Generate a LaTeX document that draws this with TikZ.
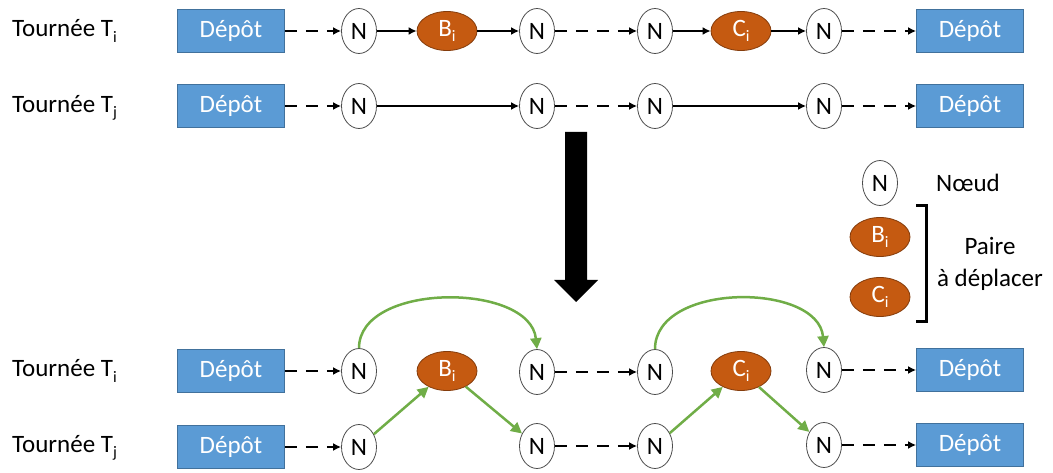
\documentclass[tikz,border=0pt]{standalone}
\usepackage{fontspec}
\setmainfont{Carlito}
\usetikzlibrary{arrows.meta,shapes.geometric}
\definecolor{depblue}{HTML}{5B9BD5}
\definecolor{depborder}{HTML}{41719C}
\definecolor{pairorange}{HTML}{C55A11}
\definecolor{pairborder}{HTML}{843C0C}
\definecolor{movegreen}{HTML}{70AD47}
\newcommand\mysub[1]{\raisebox{-0.45ex}{\fontsize{16}{16}\selectfont #1}}
\tikzset{
  txt/.style={font=\fontsize{25}{29}\selectfont, inner sep=0pt},
  depot/.style={rectangle, draw=depborder, line width=0.8pt, fill=depblue, text=white,
    minimum width=107pt, minimum height=43pt, inner sep=0pt, font=\fontsize{25}{29}\selectfont},
  nnode/.style={ellipse, draw=black!70, line width=0.8pt, fill=white, minimum width=35pt,
    minimum height=45pt, inner sep=0pt, font=\fontsize{25}{29}\selectfont},
  pnode/.style={ellipse, draw=pairborder, line width=0.8pt, fill=pairorange, text=white,
    minimum width=60pt, minimum height=39pt, inner sep=0pt, font=\fontsize{25}{29}\selectfont},
  dasharr/.style={line width=2.2pt, dash pattern=on 12pt off 9pt, -{Latex[length=8pt,width=8pt]}},
  solarr/.style={line width=2.2pt, -{Latex[length=8pt,width=8pt]}},
  greenarr/.style={line width=2.5pt, draw=movegreen, -{Triangle[length=11pt,width=11pt]}},
}
\begin{document}
\begin{tikzpicture}[x=1pt,y=-1pt]
\useasboundingbox (0,0) rectangle (1053,473);

% ---------- Top: before ----------
\node[txt, anchor=west] (lab1) at (12,31) {Tournée T\mysub{i}};
\node[txt, anchor=west] (lab2) at (12,108) {Tournée T\mysub{j}};

\node[depot] (d1a) at (231,31) {Dépôt};
\node[nnode] (n1a) at (359,31) {N};
\node[pnode] (b1) at (447,31) {B\mysub{i}};
\node[nnode] (n1b) at (537,31) {N};
\node[nnode] (n1c) at (655,31) {N};
\node[pnode] (c1) at (741,31) {C\mysub{i}};
\node[nnode] (n1d) at (824,31) {N};
\node[depot] (d1b) at (970,31) {Dépôt};

\draw[dasharr] (d1a) -- (n1a);
\draw[solarr] (n1a) -- (b1);
\draw[solarr] (b1) -- (n1b);
\draw[dasharr] (n1b) -- (n1c);
\draw[solarr] (n1c) -- (c1);
\draw[solarr] (c1) -- (n1d);
\draw[dasharr] (n1d) -- (d1b);

\node[depot] (d2a) at (231,106) {Dépôt};
\node[nnode] (n2a) at (359,106) {N};
\node[nnode] (n2b) at (537,106) {N};
\node[nnode] (n2c) at (655,106) {N};
\node[nnode] (n2d) at (824,106) {N};
\node[depot] (d2b) at (970,106) {Dépôt};

\draw[dasharr] (d2a) -- (n2a);
\draw[solarr] (n2a) -- (n2b);
\draw[dasharr] (n2b) -- (n2c);
\draw[solarr] (n2c) -- (n2d);
\draw[dasharr] (n2d) -- (d2b);

% ---------- Big arrow ----------
\fill[black] (565,132) -- (587,132) -- (587,280) -- (598,280) -- (576,302)
  -- (554,280) -- (565,280) -- cycle;

% ---------- Legend ----------
\node[nnode] (ln) at (880,183) {N};
\node[txt, anchor=west] (lnt) at (936,183) {Nœud};
\node[pnode] (lb) at (880,237) {B\mysub{i}};
\node[pnode] (lc) at (880,297) {C\mysub{i}};
\draw[line width=3pt] (916,206) -- (926,206) -- (926,322) -- (916,322);
\node[txt, align=center] (lpair) at (990,264) {Paire\\[3pt]à déplacer};

% ---------- Bottom: after ----------
\node[txt, anchor=west] (lab3) at (12,371) {Tournée T\mysub{i}};
\node[txt, anchor=west] (lab4) at (12,448) {Tournée T\mysub{j}};

\node[depot] (d3a) at (231,371) {Dépôt};
\node[nnode] (n3a) at (359,371) {N};
\node[pnode] (b3) at (447,371) {B\mysub{i}};
\node[nnode] (n3b) at (537,372) {N};
\node[nnode] (n3c) at (655,372) {N};
\node[pnode] (c3) at (741,371) {C\mysub{i}};
\node[nnode] (n3d) at (824,370) {N};
\node[depot] (d3b) at (970,370) {Dépôt};

\draw[dasharr] (d3a) -- (n3a);
\draw[dasharr] (n3b) -- (n3c);
\draw[dasharr] (n3d) -- (d3b);

\node[depot] (d4a) at (231,447) {Dépôt};
\node[nnode] (n4a) at (359,447) {N};
\node[nnode] (n4b) at (537,446) {N};
\node[nnode] (n4c) at (655,446) {N};
\node[nnode] (n4d) at (824,445) {N};
\node[depot] (d4b) at (970,445) {Dépôt};

\draw[dasharr] (d4a) -- (n4a);
\draw[dasharr] (n4b) -- (n4c);
\draw[dasharr] (n4d) -- (d4b);

% green moves
\draw[greenarr] (n3a.north) .. controls (359,282) and (530,282) .. (n3b.north);
\draw[greenarr] (n3c.north) .. controls (655,282) and (818,282) .. (n3d.north);
\draw[greenarr] (n4a) -- (b3);
\draw[greenarr] (b3) -- (n4b);
\draw[greenarr] (n4c) -- (c3);
\draw[greenarr] (c3) -- (n4d);
\end{tikzpicture}
\end{document}
